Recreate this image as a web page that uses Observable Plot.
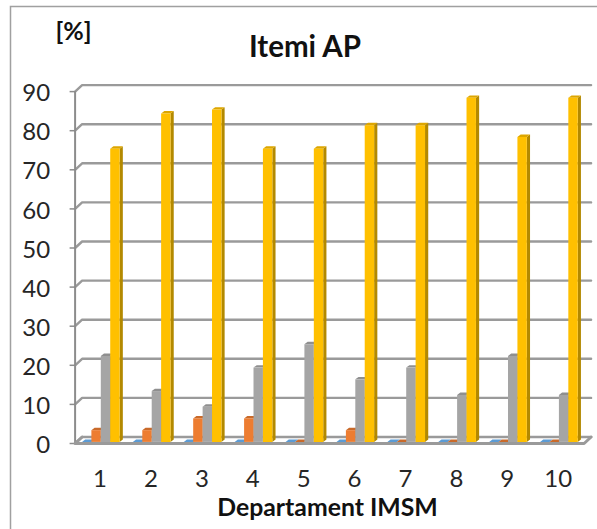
<!DOCTYPE html>
<html><head><meta charset="utf-8">
<script src="https://cdn.jsdelivr.net/npm/d3@7"></script>
<script src="https://cdn.jsdelivr.net/npm/@observablehq/plot@0.6"></script>
<style>html,body{margin:0;padding:0;background:#fff}svg{display:block}</style>
</head><body><div id="chart"></div>
<script>
const departments = [1,2,3,4,5,6,7,8,9,10];
const blue   = [0,0,0,0,0,0,0,0,0,0];
const orange = [3,3,6,6,0,3,0,0,0,0];
const gray   = [22,13,9,19,25,16,19,12,22,12];
const yellow = [75,84,85,75,75,81,81,88,78,88];
const yTicks = [0,10,20,30,40,50,60,70,80,90];
const series = [
  {values: blue,   front: "#5B9BD5", side: "#41719C", top: "#5B9BD5", slot: 0},
  {values: orange, front: "#ED7D31", side: "#AE5A21", top: "#C96A2A", slot: 1},
  {values: gray,   front: "#A5A5A5", side: "#787878", top: "#8F8F8F", slot: 2},
  {values: yellow, front: "#FFC000", side: "#B38900", top: "#DDA600", slot: 3}
];
const kx = 50.9, ky = 3.91;           // pixels per data unit
const ux = p => p / kx, uy = p => p / ky;
const wallDX = ux(7), wallDY = uy(6.5);
const barW = 0.185, start = -0.365, bx = ux(3.2), by = uy(2.4), shiftY = uy(1.6);

const faces = [];
series.forEach((s, si) => departments.forEach((d, i) => {
  const v = s.values[i], x0 = d + start + s.slot * barW, x1 = x0 + barW, b = shiftY, t = v + shiftY;
  const id = si + "-" + d;
  const add = (f, col, pts) => pts.forEach(([x, y]) => faces.push({id: id + f, col, x, y}));
  add("s", s.side, [[x1,b],[x1+bx,b+by],[x1+bx,t+by],[x1,t]]);
  add("t", s.top, [[x0,t],[x1,t],[x1+bx,t+by],[x0+bx,t+by]]);
  add("f", s.front, [[x0,b],[x1,b],[x1,t],[x0,t]]);
}));
const x0 = 0.5, x1 = 10.5;
const ticks = yTicks;
const wall = ticks.flatMap(t => [{id:t,x:x0,y:t},{id:t,x:x0+wallDX,y:t+wallDY},{id:t,x:x1+wallDX,y:t+wallDY}]);
const floor = [{x:x0+wallDX,y:wallDY},{x:x0,y:0},{x:x1,y:0},{x:x1+wallDX,y:wallDY}];
const line = "#8c8c8c";

const plot = Plot.plot({
  width: 597, height: 529,
  marginLeft: 0, marginRight: 0, marginTop: 0, marginBottom: 0,
  style: {fontFamily: "Lato, sans-serif", background: "#fff", color: "#262626"},
  x: {type: "linear", domain: [x0 - 74.6/kx, x0 + (597-74.6)/kx], range: [0, 597], axis: null},
  y: {type: "linear", domain: [-86/ky, 443/ky], range: [529, 0], axis: null},
  marks: [
    Plot.line(wall, {x:"x", y:"y", z:"id", stroke: "#9a9a9a", strokeWidth: 2.4, curve:"linear"}),
    Plot.ruleY(ticks, {x1: x0 - 5/kx*1, x2: x0, y: d => d, stroke: line, strokeWidth: 1.5}),
    Plot.ruleX([x0], {y1: 0, y2: 90, stroke: line, strokeWidth: 2}),
    Plot.line(floor, {x:"x", y:"y", stroke: "#9a9a9a", strokeWidth: 3}),
    Plot.line(faces, {x:"x", y:"y", z:"id", fill:"col", stroke:"none", curve:"linear-closed"}),
    Plot.text(ticks, {x: x0 - 25/kx, y: d => d - uy(2), text: d => String(d), textAnchor:"end", fontSize: 24, fill:"#262626"}),
    Plot.text(departments, {x: d => d - ux(0.5), y: -uy(35.5), text: d => String(d), fontSize: 24, fill:"#262626"}),
  ]
});
document.getElementById("chart").appendChild(plot);
const svg = d3.select(plot);
svg.append("path").attr("d","M10.5 529V6.5H597").attr("fill","none").attr("stroke","#a0a0a0").attr("stroke-width",1.5);
svg.append("text").attr("x",305).attr("y",57).attr("text-anchor","middle").attr("font-size",29.5).attr("font-weight",700).attr("fill","#111").text("Itemi AP");
svg.append("text").attr("x",73.5).attr("y",40).attr("text-anchor","middle").attr("font-size",25).attr("font-weight",700).attr("fill","#111").text("[%]");
svg.append("text").attr("x",327.5).attr("y",515.5).attr("text-anchor","middle").attr("font-size",24.8).attr("font-weight",700).attr("fill","#111").text("Departament IMSM");
</script></body></html>
